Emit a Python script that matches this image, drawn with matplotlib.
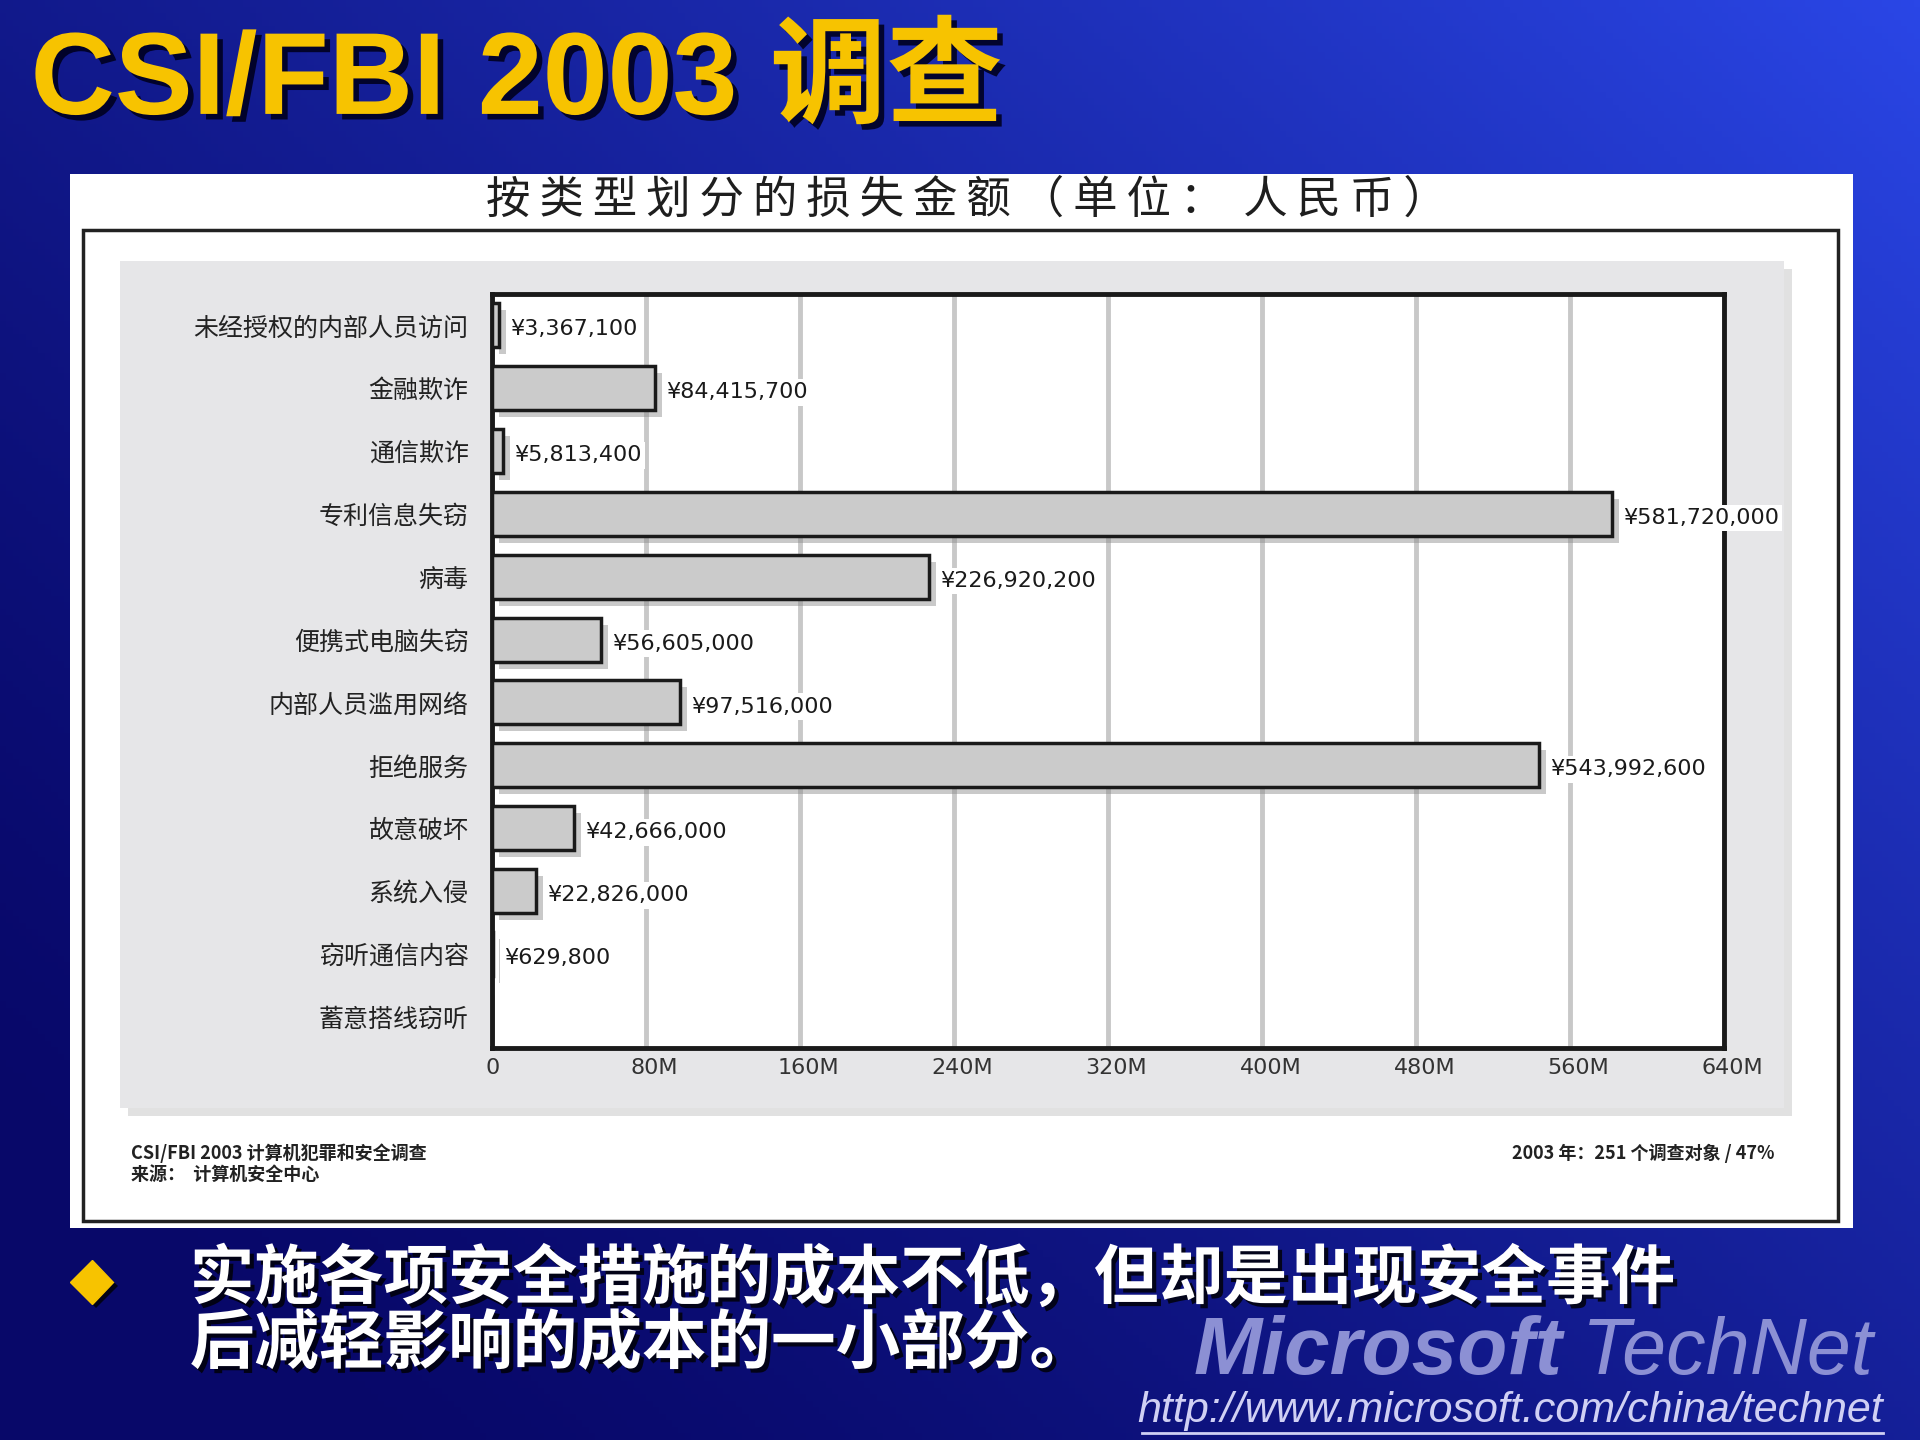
import numpy as np
import matplotlib
matplotlib.use("Agg")
import matplotlib.pyplot as plt
import matplotlib.patheffects as pe
import matplotlib.transforms as mtrans
from matplotlib.patches import Rectangle
from matplotlib.lines import Line2D

# data
categories = ["未经授权的内部人员访问", "金融欺诈", "通信欺诈", "专利信息失窃", "病毒",
              "便携式电脑失窃", "内部人员滥用网络", "拒绝服务", "故意破坏", "系统入侵",
              "窃听通信内容", "蓄意搭线窃听"]
losses = [3367100, 84415700, 5813400, 581720000, 226920200, 56605000,
          97516000, 543992600, 42666000, 22826000, 629800, 0]
value_labels = ["¥3,367,100", "¥84,415,700", "¥5,813,400", "¥581,720,000", "¥226,920,200",
                "¥56,605,000", "¥97,516,000", "¥543,992,600", "¥42,666,000", "¥22,826,000",
                "¥629,800", ""]
x_ticks = [0, 80e6, 160e6, 240e6, 320e6, 400e6, 480e6, 560e6, 640e6]
x_tick_labels = ["0", "80M", "160M", "240M", "320M", "400M", "480M", "560M", "640M"]

plt.rcParams["font.family"] = ["DejaVu Sans", "Noto Sans CJK SC"]
CJK = ["Noto Sans CJK SC", "DejaVu Sans"]

# layout measured on a 1568x1176 copy of the slide
W, H = 1568.0, 1176.0
def fx(x):
    return x / W
def fy(y):
    return 1 - y / H
def frect(x0, y0, x1, y1, **kw):
    return Rectangle((fx(x0), fy(y1)), (x1 - x0) / W, (y1 - y0) / H,
                     transform=fig.transFigure, **kw)

fig = plt.figure(figsize=(19.2, 14.4), dpi=100)

# blue gradient background
bg = fig.add_axes([0, 0, 1, 1], zorder=-10)
xx, yy = np.meshgrid(np.linspace(0, 1, 300), np.linspace(0, 1, 220))
t = np.clip(0.6 * xx + 0.5 * yy - 0.1, 0, 1) ** 1.4
c0 = np.array([8, 8, 105]) / 255.0
c1 = np.array([42, 70, 230]) / 255.0
bg.imshow(c0 + (c1 - c0) * t[..., None], origin="lower", extent=[0, 1, 0, 1], aspect="auto")
bg.axis("off")

# title
fig.text(fx(25), fy(68), "CSI/FBI 2003 调查", fontsize=84, fontweight="bold",
         color="#f7c300", va="center", ha="left", family=["Liberation Sans", "Noto Sans CJK SC"],
         path_effects=[pe.withSimplePatchShadow(offset=(4, -4), shadow_rgbFace="#000020", alpha=0.9)])

# white panel, border, grey plot area
fig.add_artist(frect(57, 142, 1513, 1003, facecolor="white", edgecolor="none", zorder=1))
fig.add_artist(frect(68, 188, 1501, 997, facecolor="none", edgecolor="#222222", lw=2.5, zorder=2))
fig.add_artist(frect(98, 213, 1457, 905, facecolor="#e6e6e8", edgecolor="none", zorder=2,
                     path_effects=[pe.withSimplePatchShadow(offset=(6, -6), shadow_rgbFace="#c4c4c4", alpha=0.5)]))

chart_title = "\u2009".join("按类型划分的损失金额（单位：") + "\u2009 " + "\u2009".join("人民币）")
fig.text(fx(790), fy(163), chart_title, fontsize=32, fontweight="medium",
         color="#1e1e1e", ha="center", va="center", family=CJK, zorder=3)

# chart
ax = fig.add_axes([fx(402), fy(856), (1408 - 402) / W, (856 - 240) / H])
ax.set_zorder(5)
ax.set_facecolor("white")
y = np.arange(len(categories))
ax.barh(y, losses, height=0.7, color="#cbcbcb", edgecolor="#1a1a1a", linewidth=2.5, zorder=3,
        path_effects=[pe.withSimplePatchShadow(offset=(5, -5), shadow_rgbFace="#888888", alpha=0.45)])
for yi, v, lab in zip(y, losses, value_labels):
    if lab:
        ax.annotate(lab, (v, yi), xytext=(8, -3), textcoords="offset points",
                    ha="left", va="center", fontsize=16, color="#1a1a1a", zorder=4,
                    bbox=dict(boxstyle="square,pad=0.15", facecolor="white", edgecolor="none"))
ax.set_xlim(0, 640e6)
ax.set_ylim(len(categories) - 0.5, -0.5)
ax.set_xticks(x_ticks)
ax.set_xticklabels(x_tick_labels)
ax.set_yticks(y)
ax.set_yticklabels(categories, family=CJK)
ax.grid(axis="x", color="#c8c8c8", lw=3.5, zorder=1)
ax.set_axisbelow(True)
ax.tick_params(axis="x", length=0, pad=7, labelsize=16, labelcolor="#333333")
ax.tick_params(axis="y", length=0, pad=17, labelsize=18, labelcolor="#222222")
shift = mtrans.ScaledTranslation(6 / 72, 0, fig.dpi_scale_trans)
for lbl in ax.get_xticklabels()[1:]:
    lbl.set_transform(lbl.get_transform() + shift)
for s in ax.spines.values():
    s.set_color("#1a1a1a")
    s.set_linewidth(3.5)

# footer notes
fig.text(fx(107), fy(942), "CSI/FBI 2003 计算机犯罪和安全调查", fontsize=13, fontweight="bold",
         color="#222222", ha="left", va="center", family=CJK, zorder=3)
fig.text(fx(107), fy(959), "来源：  计算机安全中心", fontsize=13, fontweight="bold",
         color="#222222", ha="left", va="center", family=CJK, zorder=3)
fig.text(fx(1449), fy(942), "2003 年：251 个调查对象 / 47%", fontsize=13, fontweight="bold",
         color="#222222", ha="right", va="center", family=CJK, zorder=3)

# bullet text
shadow = [pe.withSimplePatchShadow(offset=(3, -3), shadow_rgbFace="#000000", alpha=0.8)]
fig.add_artist(Line2D([fx(75)], [fy(1047)], marker="D", markersize=22, color="#f7c300",
                      transform=fig.transFigure, path_effects=shadow))
fig.text(fx(155), fy(1045), "实施各项安全措施的成本不低，但却是出现安全事件", fontsize=46.5,
         fontweight="bold", color="white", ha="left", va="center", family=CJK, path_effects=shadow)
fig.text(fx(155), fy(1098), "后减轻影响的成本的一小部分。", fontsize=46.5,
         fontweight="bold", color="white", ha="left", va="center", family=CJK, path_effects=shadow)

# TechNet logo and link
fig.text(fx(975), fy(1105), "Microsoft", fontsize=59, fontweight="bold", style="italic",
         color="#8c90d4", ha="left", va="center", family="Liberation Sans")
fig.text(fx(1530), fy(1105), "TechNet", fontsize=57, style="italic",
         color="#8c90d4", ha="right", va="center", family="Liberation Sans")
fig.text(fx(1538), fy(1152), "http://www.microsoft.com/china/technet", fontsize=31, style="italic",
         color="#d0d0f4", ha="right", va="center", family="Liberation Sans")
fig.add_artist(Line2D([fx(933), fx(1538)], [fy(1170), fy(1170)], color="#d0d0f4", lw=2,
                      transform=fig.transFigure))

fig.savefig("out.png", dpi=100)
